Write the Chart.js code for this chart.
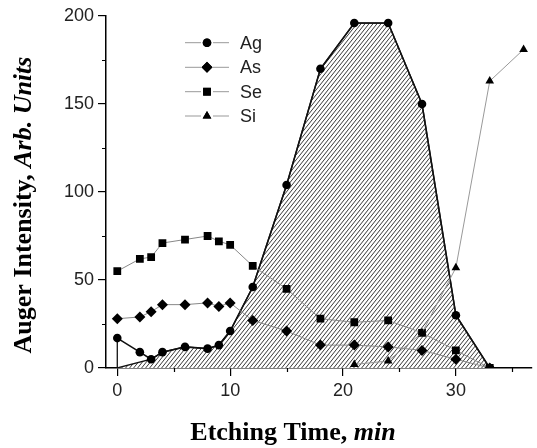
<!DOCTYPE html>
<html>
<head>
<meta charset="utf-8">
<script src="https://cdn.jsdelivr.net/npm/chart.js@4/dist/chart.umd.min.js"></script>
<style>
  html, body { margin: 0; padding: 0; background: #fff; }
  #wrap { width: 537px; height: 448px; position: relative; }
</style>
</head>
<body>
<div id="wrap"><canvas id="auger" width="537" height="448"></canvas></div>
<script>
// etching times (min) for each element
const agTime = [0, 2, 3, 4, 6, 8, 9, 10, 12, 15, 18, 21, 24, 27, 30, 33]
const agValues = [17, 9, 5, 9, 12, 11, 13, 21, 46, 104, 170, 196, 196, 150, 30, 0]

const asTime = [0, 2, 3, 4, 6, 8, 9, 10, 12, 15, 18, 21, 24, 27, 30, 33]
const asValues = [28, 29, 32, 36, 36, 37, 35, 37, 27, 21, 13, 13, 12, 10, 5, 0]

const seTime = [0, 2, 3, 4, 6, 8, 9, 10, 12, 15, 18, 21, 24, 27, 30, 33]
const seValues = [55, 62, 63, 71, 73, 75, 72, 70, 58, 45, 28, 26, 27, 20, 10, 0]

const siTime = [21, 24, 27, 30, 33, 36]
const siValues = [2, 4, 20, 57, 163, 181]

// hatched region under the Ag curve
const areaTime = [0, 0, 3, 4, 6, 8, 9, 10, 12, 15, 18, 21, 24, 27, 30, 33]
const areaValues = [17, 0, 5, 9, 12, 11, 13, 21, 46, 104, 170, 196, 196, 150, 30, 0]

const legendOrder = ['Ag', 'As', 'Se', 'Si']
const xTicks = [0, 10, 20, 30]
const xMinorTicks = [5, 15, 25, 35]
const yMinorTicks = [25, 75, 125, 175]

function toPoints (xs, ys) {
  return xs.map((x, i) => ({ x, y: ys[i] }))
}

function makeHatch () {
  const c = document.createElement('canvas')
  c.width = 4
  c.height = 5
  const g = c.getContext('2d')
  g.fillStyle = '#fff'
  g.fillRect(0, 0, 4, 5)
  g.strokeStyle = '#222'
  g.lineWidth = 0.9
  for (let k = -1; k <= 1; k++) {
    g.beginPath()
    g.moveTo(k * 4, 5)
    g.lineTo(k * 4 + 4, 0)
    g.stroke()
  }
  return g.createPattern(c, 'repeat')
}

const serif = '"Liberation Serif", "Times New Roman", serif'
const sans = '"Liberation Sans", Arial, sans-serif'

// legend: grey line - marker - grey line, then label
const legendPlugin = {
  id: 'customLegend',
  afterDatasetsDraw (chart) {
    const ctx = chart.ctx
    const rows = [42.7, 67.3, 91.7, 116]
    const items = legendOrder.map(name => chart.data.datasets.find(d => d.label === name))
    ctx.save()
    items.forEach((d, i) => {
      const y = rows[i]
      ctx.strokeStyle = '#999'
      ctx.lineWidth = 1
      ctx.beginPath()
      ctx.moveTo(185, y)
      ctx.lineTo(201, y)
      ctx.moveTo(213, y)
      ctx.lineTo(229, y)
      ctx.stroke()
      ctx.fillStyle = '#000'
      ctx.strokeStyle = '#000'
      Chart.helpers.drawPoint(ctx, {
        pointStyle: d.pointStyle,
        radius: d.pointRadius,
        rotation: 0,
        borderWidth: 0
      }, 207, y)
      ctx.fill()
      ctx.fillStyle = '#222'
      ctx.font = '18px ' + sans
      ctx.textBaseline = 'middle'
      ctx.textAlign = 'left'
      ctx.fillText(d.label, 240, y + 1)
    })
    ctx.restore()
  }
}

// minor ticks and axis titles
const decorPlugin = {
  id: 'decor',
  afterDraw (chart) {
    const ctx = chart.ctx
    const xs = chart.scales.x
    const ys = chart.scales.y
    const area = chart.chartArea
    ctx.save()
    ctx.strokeStyle = '#000'
    ctx.lineWidth = 1.2
    ctx.beginPath()
    xMinorTicks.forEach(v => {
      const px = Math.round(xs.getPixelForValue(v)) + 0.5
      ctx.moveTo(px, area.bottom)
      ctx.lineTo(px, area.bottom + 4)
    })
    yMinorTicks.forEach(v => {
      const py = Math.round(ys.getPixelForValue(v)) + 0.5
      ctx.moveTo(area.left, py)
      ctx.lineTo(area.left - 4, py)
    })
    ctx.stroke()

    // x title
    ctx.fillStyle = '#000'
    ctx.textBaseline = 'alphabetic'
    const fs = 26
    const xa = 'Etching Time, '
    const xb = 'min'
    ctx.font = 'bold ' + fs + 'px ' + serif
    const wa = ctx.measureText(xa).width
    ctx.font = 'italic bold ' + fs + 'px ' + serif
    const wb = ctx.measureText(xb).width
    let sx = 293 - (wa + wb) / 2
    ctx.font = 'bold ' + fs + 'px ' + serif
    ctx.fillText(xa, sx, 440)
    ctx.font = 'italic bold ' + fs + 'px ' + serif
    ctx.fillText(xb, sx + wa, 440)

    // y title
    ctx.translate(31, 205)
    ctx.rotate(-Math.PI / 2)
    const ya = 'Auger Intensity, '
    const yb = 'Arb. Units'
    ctx.font = 'bold ' + fs + 'px ' + serif
    const ha = ctx.measureText(ya).width
    ctx.font = 'italic bold ' + fs + 'px ' + serif
    const hb = ctx.measureText(yb).width
    sx = -(ha + hb) / 2
    ctx.font = 'bold ' + fs + 'px ' + serif
    ctx.fillText(ya, sx, 0)
    ctx.font = 'italic bold ' + fs + 'px ' + serif
    ctx.fillText(yb, sx + ha, 0)
    ctx.restore()
  }
}

const ctx = document.getElementById('auger').getContext('2d')

new Chart(ctx, {
  type: 'scatter',
  data: {
    datasets: [
      {
        label: 'Si',
        data: toPoints(siTime, siValues),
        showLine: true,
        borderColor: '#999',
        borderWidth: 1,
        pointStyle: 'triangle',
        pointRadius: 5,
        pointBackgroundColor: '#000',
        pointBorderColor: '#000',
        pointBorderWidth: 0,
        order: 1
      },
      {
        label: 'Se',
        data: toPoints(seTime, seValues),
        showLine: true,
        borderColor: '#888',
        borderWidth: 1,
        pointStyle: 'rect',
        pointRadius: 5.5,
        pointBackgroundColor: '#000',
        pointBorderColor: '#000',
        pointBorderWidth: 0,
        order: 2
      },
      {
        label: 'As',
        data: toPoints(asTime, asValues),
        showLine: true,
        borderColor: '#888',
        borderWidth: 1,
        pointStyle: 'rectRot',
        pointRadius: 5.5,
        pointBackgroundColor: '#000',
        pointBorderColor: '#000',
        pointBorderWidth: 0,
        order: 3
      },
      {
        label: 'Ag',
        data: toPoints(agTime, agValues),
        showLine: true,
        borderColor: '#111',
        borderWidth: 1.6,
        pointStyle: 'circle',
        pointRadius: 4.3,
        pointBackgroundColor: '#000',
        pointBorderColor: '#000',
        pointBorderWidth: 0,
        order: 4
      },
      {
        label: 'area',
        data: toPoints(areaTime, areaValues),
        showLine: true,
        fill: 'origin',
        backgroundColor: makeHatch(),
        borderColor: '#111',
        borderWidth: 1.3,
        pointRadius: 0,
        order: 10
      }
    ]
  },
  options: {
    responsive: false,
    animation: false,
    events: [],
    layout: { padding: { top: 16, right: 0, left: 0, bottom: 0 } },
    plugins: {
      legend: { display: false },
      tooltip: { enabled: false }
    },
    scales: {
      x: {
        type: 'linear',
        min: -1,
        max: 36.7,
        afterFit: (scale) => { scale.height = 80 },
        border: { display: true, color: '#000', width: 1.5 },
        grid: { drawOnChartArea: false, drawTicks: true, tickLength: 8, color: '#000', lineWidth: 1.2 },
        afterBuildTicks: (scale) => {
          scale.ticks = xTicks.map(v => ({ value: v }))
        },
        ticks: {
          color: '#222',
          font: { family: sans, size: 18 },
          padding: 4,
          maxRotation: 0
        }
      },
      y: {
        type: 'linear',
        min: 0,
        max: 200,
        afterFit: (scale) => { scale.width = 106 },
        border: { display: true, color: '#000', width: 1.5 },
        grid: { drawOnChartArea: false, drawTicks: true, tickLength: 8, color: '#000', lineWidth: 1.2 },
        ticks: {
          stepSize: 50,
          color: '#222',
          font: { family: sans, size: 18 },
          padding: 4
        }
      }
    }
  },
  plugins: [legendPlugin, decorPlugin]
})
</script>
</body>
</html>
